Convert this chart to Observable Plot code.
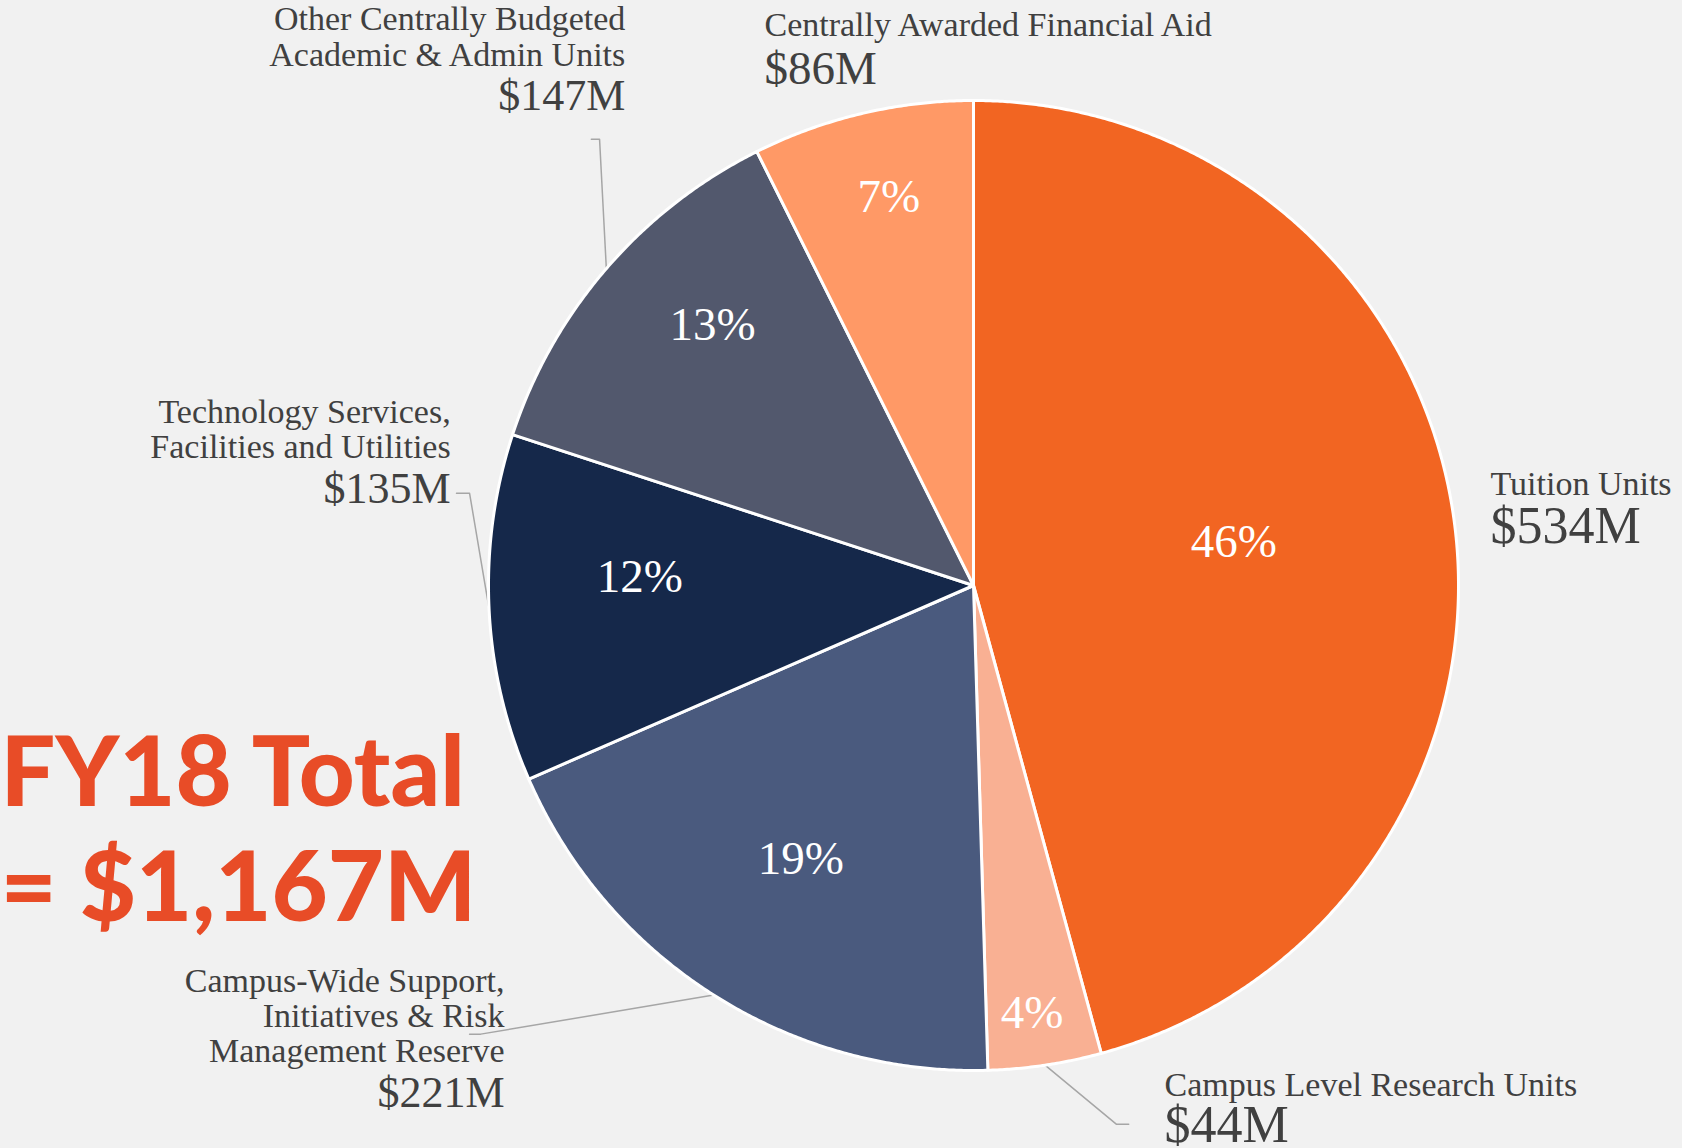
<!DOCTYPE html>
<html><head><meta charset="utf-8">
<script src="https://cdn.jsdelivr.net/npm/d3@7"></script>
<script src="https://cdn.jsdelivr.net/npm/@observablehq/plot@0.6"></script>
<style>
html,body{margin:0;padding:0;background:#f1f1f1;}
#chart{width:1682px;height:1148px;overflow:hidden;}
</style></head><body><div id="chart"></div>
<script>
// ---- data ----
const categories = [
  "Tuition Units",
  "Campus Level Research Units",
  "Campus-Wide Support,\nInitiatives & Risk\nManagement Reserve",
  "Technology Services,\nFacilities and Utilities",
  "Other Centrally Budgeted\nAcademic & Admin Units",
  "Centrally Awarded Financial Aid"
];
const amounts = [534, 44, 221, 135, 147, 86]; // $M
const colors = ["#f26522", "#f9b093", "#4a5a7e", "#15284a", "#52586d", "#ff9966"];
const titleLines = ["FY18 Total", "= $1,167M"];

// ---- layout (in units of pie radius, origin at pie centre) ----
const W = 1682, H = 1148, CX = 973, CY = 585, R = 485;
// percentage label placement: [radius fraction, angle in degrees clockwise from top]
const pctLayout = [[0.544, 80.6], [0.89, 172.2], [0.666, 212.3], [0.688, 271.5], [0.761, 315], [0.82, 347.7]];
const labelLayout = [
  {anchor: "start", x: 1.066, nameY: 0.186, amtY: 0.087, amtSize: 52},
  {anchor: "start", x: 0.394, nameY: -1.053, amtY: -1.148, amtSize: 52},
  {anchor: "end", x: -0.967, nameY: -0.983, amtY: -1.076, amtSize: 44},
  {anchor: "end", x: -1.078, nameY: 0.262, amtY: 0.171, amtSize: 44},
  {anchor: "end", x: -0.718, nameY: 1.072, amtY: 0.981, amtSize: 44},
  {anchor: "start", x: -0.431, nameY: 1.132, amtY: 1.033, amtSize: 47}
];
const leaderLayout = [
  null,
  {elbow: [0.295, -1.111], end: [0.320, -1.111]},
  {elbow: [-1.016, -0.925], end: [-1.039, -0.925]},
  {elbow: [-1.039, 0.190], end: [-1.066, 0.190]},
  {elbow: [-0.771, 0.920], end: [-0.788, 0.920]},
  null
];

// ---- derived ----
const total = d3.sum(amounts);
const pie = d3.pie().sort(null).value(d => d)(amounts);
const slices = pie.map((p, i) => ({
  name: categories[i], amount: amounts[i], a0: p.startAngle, a1: p.endAngle,
  mid: (p.startAngle + p.endAngle) / 2,
  pct: Math.round(amounts[i] / total * 100) + "%"
}));
const polyPts = [];
for (const s of slices) {
  polyPts.push({name: s.name, x: 0, y: 0});
  const n = Math.max(4, Math.ceil((s.a1 - s.a0) / 0.005));
  for (let k = 0; k <= n; k++) {
    const a = s.a0 + (s.a1 - s.a0) * k / n;
    polyPts.push({name: s.name, x: Math.sin(a), y: Math.cos(a)});
  }
}
const pctData = slices.map((s, i) => {
  const [r, deg] = pctLayout[i];
  const a = deg * Math.PI / 180;
  return {text: s.pct, x: r * Math.sin(a), y: r * Math.cos(a)};
});
const labelData = slices.map((s, i) => ({...labelLayout[i], name: s.name, amt: "$" + s.amount + "M"}));
const leaderPts = [];
slices.forEach((s, i) => {
  const L = leaderLayout[i];
  if (!L) return;
  leaderPts.push({k: i, x: Math.sin(s.mid), y: Math.cos(s.mid)});
  leaderPts.push({k: i, x: L.elbow[0], y: L.elbow[1]});
  leaderPts.push({k: i, x: L.end[0], y: L.end[1]});
});

const serif = "'Liberation Serif', 'Times New Roman', serif";
const textColor = "#404040";
const left = labelData.filter(d => d.anchor === "start");
const right = labelData.filter(d => d.anchor === "end");

const chart = Plot.plot({
  width: W, height: H, margin: 0,
  x: {domain: [-CX / R, (W - CX) / R], axis: null},
  y: {domain: [-(H - CY) / R, CY / R], axis: null},
  color: {domain: categories, range: colors},
  style: {background: "#f1f1f1", overflow: "hidden"},
  marks: [
    Plot.line(leaderPts, {x: "x", y: "y", z: "k", stroke: "#a6a6a6", strokeWidth: 1.5}),
    Plot.line(polyPts, {x: "x", y: "y", z: "name", fill: "name", stroke: "white", strokeWidth: 3, strokeLinejoin: "round", curve: "linear-closed"}),
    Plot.text(pctData, {x: "x", y: "y", text: "text", fill: "white", fontSize: 47, fontFamily: serif}),
    Plot.text(left, {x: "x", y: "nameY", text: "name", textAnchor: "start", lineAnchor: "bottom", lineHeight: 1.04, fontSize: 34, fontFamily: serif, fill: textColor}),
    Plot.text(right, {x: "x", y: "nameY", text: "name", textAnchor: "end", lineAnchor: "bottom", lineHeight: 1.04, fontSize: 34, fontFamily: serif, fill: textColor}),
    Plot.text(left, {x: "x", y: "amtY", text: "amt", textAnchor: "start", lineAnchor: "bottom", fontSize: d => d.amtSize, fontFamily: serif, fill: textColor}),
    Plot.text(right, {x: "x", y: "amtY", text: "amt", textAnchor: "end", lineAnchor: "bottom", fontSize: d => d.amtSize, fontFamily: serif, fill: textColor}),
    Plot.text([titleLines.join("\n")], {x: -CX / R, y: -0.691, text: d => d, textAnchor: "start", lineAnchor: "bottom", lineHeight: 1.18, fontSize: 97, fontWeight: 900, fontFamily: "Lato, 'Open Sans', sans-serif", fill: "#e84c27"})
  ]
});
document.getElementById("chart").appendChild(chart);
</script>
</body></html>
